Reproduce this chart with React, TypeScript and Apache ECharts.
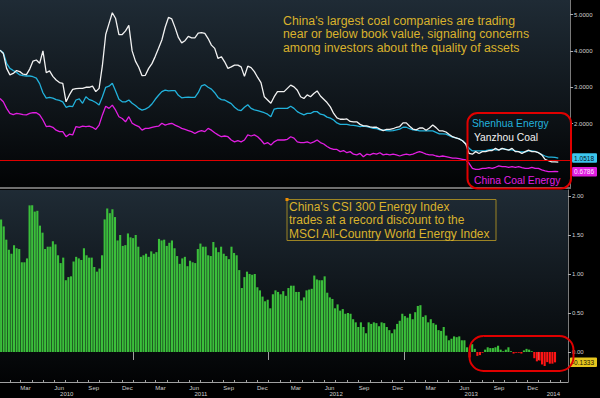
import React, { useEffect, useRef } from "react";
import * as echarts from "echarts";

// ---- time frame (days since 2010-01-01) ----
const DAY0 = Date.UTC(2010, 0, 1);
const AXIS_MIN_DAY = 4;
const AXIS_MAX_DAY = 1540;
const LAST_LABEL_DAY = 1500;

// top panel: price-to-book ratios, sampled every ~9 days
const LINE_START_DAY = 4;
const LINE_STEP_DAYS = 8.9;

const yanzhouCoal = [
  4.02, 3.93, 3.52, 3.34, 3.38, 3.46, 3.43, 3.36, 3.35, 3.5,
  3.72, 3.75, 3.66, 4.0, 3.4, 3.45, 3.3, 3.2, 3.13, 3.11,
  2.6, 2.79, 2.94, 2.96, 2.97, 2.97, 3.0, 3.0, 3.03, 2.88,
  2.97, 3.6, 4.45, 4.75, 5.05, 4.89, 4.45, 4.45, 4.55, 4.7,
  4.0, 3.72, 3.55, 3.32, 3.33, 3.52, 3.65, 3.85, 4.07, 4.3,
  4.65, 4.92, 4.88, 4.64, 4.37, 4.22, 4.28, 4.4, 4.36, 4.36,
  4.49, 4.5, 4.48, 4.34, 4.16, 4.07, 3.79, 3.84, 3.7, 3.52,
  3.56, 3.61, 3.61, 3.56, 3.3, 3.58, 3.54, 3.43, 3.27, 3.13,
  2.74, 2.65, 2.56, 2.74, 2.88, 2.88, 2.88, 2.97, 3.06, 3.01,
  2.92,
  2.74, 2.69, 2.79, 2.74, 2.83, 2.9, 2.76, 2.67, 2.58, 2.46,
  2.28, 2.16, 2.12, 2.12, 2.13, 2.06, 2.05, 2.05, 1.98, 1.94,
  1.94, 1.91, 1.9, 1.9, 1.85, 1.81, 1.84, 1.84, 1.86, 1.9,
  1.92, 2.02, 2.02, 1.93, 1.85, 1.83, 1.88, 1.88, 1.82, 1.88,
  1.96, 1.89, 1.8, 1.8, 1.77, 1.7, 1.64, 1.61, 1.58, 1.53,
  1.44, 1.18, 1.16, 1.23, 1.18, 1.23, 1.23, 1.26, 1.26, 1.32,
  1.27, 1.32, 1.29, 1.27, 1.32, 1.23, 1.23, 1.18, 1.23, 1.27,
  1.23, 1.23,
  1.2, 1.14, 1.02, 0.98, 0.95, 0.95, 0.94,
];

const shenhuaEnergy = [
  4.02, 3.95, 3.66, 3.52, 3.46, 3.41, 3.34, 3.32, 3.31, 3.31,
  3.29, 3.25, 3.1, 2.85, 2.7, 2.72, 2.7, 2.66, 2.64, 2.6,
  2.45, 2.48, 2.47, 2.65, 2.68, 2.56, 2.74, 2.66, 2.63, 2.58,
  2.51, 2.74, 3.0, 3.03, 3.11, 2.9, 2.67, 2.6, 2.6, 2.65,
  2.56, 2.5, 2.42, 2.37, 2.4, 2.45, 2.54, 2.67, 2.78, 2.88,
  2.92, 2.9, 2.91, 2.91, 2.78, 2.71, 2.72, 2.73, 2.72, 2.72,
  2.85, 3.04, 3.07, 3.0, 2.95, 2.85, 2.72, 2.66, 2.65, 2.6,
  2.55, 2.45, 2.38, 2.36, 2.45, 2.52, 2.42, 2.38, 2.36, 2.33,
  2.3, 2.26, 2.19, 2.4, 2.42, 2.42, 2.42, 2.42, 2.48, 2.42,
  2.33,
  2.28, 2.24, 2.28, 2.28, 2.33, 2.33, 2.26, 2.24, 2.18, 2.15,
  2.1, 2.02, 1.98, 1.98, 1.98, 1.96, 1.95, 1.94, 1.92, 1.93,
  1.92, 1.9, 1.87, 1.86, 1.83, 1.82, 1.81, 1.8, 1.81, 1.83,
  1.85, 1.9, 1.9, 1.86, 1.83, 1.82, 1.8, 1.8, 1.8, 1.8,
  1.8, 1.76, 1.72, 1.72, 1.71, 1.67, 1.63, 1.61, 1.58, 1.53,
  1.44, 1.32, 1.25, 1.25, 1.25, 1.25, 1.26, 1.28, 1.29, 1.28,
  1.28, 1.31, 1.3, 1.28, 1.28, 1.25, 1.23, 1.22, 1.22, 1.25,
  1.25, 1.24,
  1.2, 1.15, 1.11, 1.08, 1.08, 1.07, 1.0518,
];

const chinaCoalEnergy = [
  2.69, 2.6, 2.42, 2.28, 2.25, 2.28, 2.27, 2.25, 2.24, 2.28,
  2.3, 2.3, 2.24, 2.1, 1.92, 1.93, 1.9, 1.82, 1.78, 1.78,
  1.64, 1.71, 1.69, 1.92, 1.9, 1.93, 1.92, 1.93, 1.9, 1.84,
  1.96, 2.24, 2.48, 2.42, 2.51, 2.37, 2.19, 2.14, 2.05, 2.19,
  2.01, 1.96, 1.92, 1.82, 1.87, 1.87, 1.9, 1.92, 1.93, 2.01,
  1.96, 1.99, 2.01, 1.96, 1.92, 1.87, 1.84, 1.81, 1.78, 1.73,
  1.78, 1.81, 1.78, 1.87, 1.82, 1.75, 1.69, 1.64, 1.66, 1.64,
  1.55, 1.5, 1.53, 1.5, 1.55, 1.69, 1.66, 1.69, 1.64, 1.55,
  1.44, 1.48, 1.41, 1.5, 1.55, 1.55, 1.55, 1.57, 1.64, 1.6,
  1.5,
  1.48, 1.48, 1.5, 1.46, 1.5, 1.55, 1.48, 1.44, 1.37, 1.32,
  1.29, 1.29, 1.23, 1.26, 1.2, 1.23, 1.16, 1.14, 1.18, 1.09,
  1.16, 1.14, 1.18, 1.16, 1.2, 1.14, 1.16, 1.14, 1.16, 1.14,
  1.11, 1.14, 1.16, 1.14, 1.16, 1.2, 1.23, 1.2, 1.16, 1.14,
  1.14, 1.11, 1.09, 1.11, 1.09, 1.07, 1.05, 1.05, 1.04, 1.02,
  1.0, 0.91, 0.77, 0.74, 0.74, 0.77, 0.77, 0.79, 0.77, 0.8,
  0.84, 0.82, 0.82, 0.8, 0.82, 0.8, 0.82, 0.79, 0.77, 0.77,
  0.8, 0.77,
  0.77, 0.73, 0.7, 0.68, 0.68, 0.69, 0.6786,
];

// bottom panel: weekly premium of CSI 300 Energy vs MSCI ACWI Energy (P/B)
const BAR_START_DAY = 7; // 2010-01-08
const BAR_STEP_DAYS = 7;
const csiEnergyPremium = [
  1.7, 1.61, 1.44, 1.31, 1.26, 1.37, 1.33, 1.32, 1.15, 1.15,
  1.2, 1.88, 1.88, 1.8, 1.81, 1.62, 1.53, 1.32, 1.35, 1.35,
  1.42, 1.38, 1.24, 1.14, 1.21, 0.92, 0.96, 0.97, 1.16, 1.22,
  1.2, 1.18, 1.33, 1.24, 1.21, 1.21, 1.09, 1.03, 1.07, 1.24,
  1.7, 1.84, 1.78, 1.83, 1.73, 1.43, 1.5, 1.36, 1.37, 1.52,
  1.47, 1.46, 1.5, 1.35, 1.22, 1.24, 1.26, 1.22, 1.29, 1.26,
  1.28, 1.45, 1.43, 1.44, 1.36, 1.4, 1.43, 1.33, 1.23, 1.13,
  1.2, 1.22, 1.1, 1.17,
  1.15, 1.14, 1.32, 1.39, 1.35, 1.35, 1.24, 1.23, 1.41, 1.34,
  1.28, 1.35, 1.26, 1.23, 1.19, 1.35, 1.27, 1.24, 1.05, 0.82,
  0.96, 1.03, 1.0, 0.99, 1.0, 0.83, 0.79, 0.71, 0.65, 0.67,
  0.56, 0.74, 0.79, 0.77, 0.74, 0.78, 0.72, 0.82, 0.85, 0.85,
  0.77, 0.77, 0.66, 0.7, 0.79, 0.8, 0.81, 0.98, 0.93, 0.92,
  0.92, 0.97, 0.76, 0.7, 0.68, 0.56, 0.61, 0.53, 0.55, 0.49,
  0.5, 0.49, 0.42, 0.38, 0.32, 0.38, 0.32, 0.24, 0.38, 0.36,
  0.38, 0.37, 0.33, 0.38, 0.37, 0.32, 0.28, 0.24, 0.29, 0.36,
  0.4, 0.49, 0.46, 0.44, 0.49, 0.42, 0.51, 0.59, 0.6, 0.45,
  0.47, 0.38, 0.42, 0.37, 0.35, 0.28, 0.27, 0.32, 0.21, 0.15,
  0.17, 0.2, 0.19, 0.2, 0.15, 0.15, 0.06, -0.07, 0.1, 0.04,
  -0.05, -0.04, -0.01, 0.03, 0.06, 0.05, 0.05, 0.06, 0.08, 0.03,
  0.01, 0.03, 0.06, 0.01, -0.02, -0.01, -0.01, -0.02, 0.02, 0.04,
  0.03, 0.01, -0.08, -0.12, -0.11, -0.16, -0.18, -0.13, -0.15, -0.15,
  -0.1333,
];

const TOP_TICKS = [1, 2, 3, 4, 5];
const TOP_LABELS = [2, 3, 4, 5];
const BOTTOM_TICKS = [0, 0.5, 1, 1.5, 2];
const MONTH_NAMES = ["Jan", "Feb", "Mar", "Apr", "May", "Jun", "Jul", "Aug", "Sep", "Oct", "Nov", "Dec"];
const LABEL_MONTHS = [2, 5, 8, 11];
const YEARS = [2010, 2011, 2012, 2013, 2014];

const TOP_NOTE =
  "China's largest coal companies are trading\nnear or below book value, signaling concerns\namong investors about the quality of assets";
const BOTTOM_NOTE =
  "China's CSI 300 Energy Index\ntrades at a record discount to the\nMSCI All-Country World Energy Index";

const dayOf = (y: number, m: number) => (Date.UTC(y, m, 1) - DAY0) / 864e5;
const dateOf = (d: number) => new Date(DAY0 + (d + 0.5) * 864e5);

export default function App() {
  const ref = useRef<HTMLDivElement>(null);

  useEffect(() => {
    if (!ref.current) return;
    const chart = echarts.init(ref.current, null, { renderer: "svg" });

    const monthStarts: number[] = [];
    const quarterLabels: number[] = [];
    YEARS.forEach((y) => {
      for (let m = 0; m < 12; m++) {
        const d = dayOf(y, m);
        if (d >= AXIS_MIN_DAY && d <= AXIS_MAX_DAY) {
          monthStarts.push(d);
          if (LABEL_MONTHS.includes(m) && d <= LAST_LABEL_DAY) quarterLabels.push(d);
        }
      }
    });
    const yearStarts = YEARS.slice(1).map((y) => dayOf(y, 0));
    const yearMids = YEARS.map((y) => {
      const a = Math.max(dayOf(y, 0), AXIS_MIN_DAY);
      const b = Math.min(dayOf(y + 1, 0), AXIS_MAX_DAY);
      return (a + b) / 2;
    });

    const lineData = (arr: number[]) => arr.map((v, i) => [LINE_START_DAY + i * LINE_STEP_DAYS, v]);
    const barData = csiEnergyPremium.map((v, i) => [BAR_START_DAY + i * BAR_STEP_DAYS, v]);

    const yzLast = yanzhouCoal[yanzhouCoal.length - 1];
    const shLast = shenhuaEnergy[shenhuaEnergy.length - 1];
    const ccLast = chinaCoalEnergy[chinaCoalEnergy.length - 1];
    const barLast = csiEnergyPremium[csiEnergyPremium.length - 1];

    const font = "Liberation Sans";
    const bg = () =>
      new echarts.graphic.LinearGradient(0, 0, 0, 1, [
        { offset: 0, color: "#1f2b35" },
        { offset: 1, color: "#020304" },
      ]);

    const axisLabelBase = { fontSize: 6, color: "#d0d0d0", fontFamily: font };
    const TOP_MIN = 0.23, TOP_MAX = 5.4, BOT_MIN = -0.385, BOT_MAX = 2.077;

    const tagStyle = (bgc: string, fg: string) => ({
      backgroundColor: bgc,
      color: fg,
      fontSize: 6.5,
      fontFamily: font,
      padding: [1.5, 3, 1, 2],
      borderRadius: 1,
    });

    chart.setOption({
      animation: false,
      backgroundColor: "#000",
      grid: [
        { left: 0, right: 26, top: 0, height: 188, show: true, backgroundColor: bg(), borderWidth: 0 },
        { left: 0, right: 26, top: 190, height: 192, show: true, backgroundColor: bg(), borderWidth: 0 },
      ],
      xAxis: [
        {
          gridIndex: 0, type: "value", min: AXIS_MIN_DAY, max: AXIS_MAX_DAY,
          axisLine: { show: true, onZero: false, lineStyle: { color: "#6f6f6f", width: 2 } },
          axisTick: { show: false }, axisLabel: { show: false }, splitLine: { show: false },
        },
        {
          gridIndex: 1, type: "value", min: AXIS_MIN_DAY, max: AXIS_MAX_DAY, position: "bottom",
          axisLine: { show: true, onZero: false, lineStyle: { color: "#a0a0a0", width: 1 } },
          axisTick: { show: true, inside: true, length: 2, customValues: monthStarts, lineStyle: { color: "#a0a0a0" } },
          axisLabel: {
            ...axisLabelBase, customValues: quarterLabels, align: "left", margin: 3,
            formatter: (v: number) => MONTH_NAMES[dateOf(v).getUTCMonth()],
          },
          splitLine: { show: false },
        },
        {
          gridIndex: 1, type: "value", min: AXIS_MIN_DAY, max: AXIS_MAX_DAY, position: "bottom", offset: 8,
          axisLine: { show: false },
          axisTick: { show: true, length: 8, customValues: yearStarts, lineStyle: { color: "#a0a0a0" } },
          axisLabel: {
            ...axisLabelBase, customValues: yearMids, margin: 1,
            formatter: (v: number) => String(dateOf(v).getUTCFullYear()),
          },
          splitLine: { show: false },
        },
      ],
      yAxis: [
        {
          gridIndex: 0, type: "value", position: "right", min: TOP_MIN, max: TOP_MAX,
          axisLine: { show: true, lineStyle: { color: "#7a7a7a" } },
          axisTick: { show: true, length: 3, customValues: TOP_TICKS, lineStyle: { color: "#b0b0b0" } },
          axisLabel: { ...axisLabelBase, customValues: TOP_LABELS, margin: 4, formatter: (v: number) => v.toFixed(4) },
          splitLine: { show: false },
        },
        {
          gridIndex: 0, type: "value", position: "right", min: TOP_MIN, max: TOP_MAX,
          axisLine: { show: false }, axisTick: { show: false }, splitLine: { show: false },
          axisLabel: {
            customValues: [yzLast, shLast, ccLast], margin: 2,
            formatter: (v: number) => {
              if (Math.abs(v - shLast) < 1e-3) return "{s|" + shLast.toFixed(4) + "}";
              if (Math.abs(v - ccLast) < 1e-3) return "{c|" + ccLast.toFixed(4) + "}";
              return "{y|" + yzLast.toFixed(4) + "}";
            },
            rich: {
              s: tagStyle("#3cc6ee", "#06121a"),
              c: tagStyle("#e01ee0", "#ffe6ff"),
              y: tagStyle("#e8e8e8", "#111"),
            },
          },
        },
        {
          gridIndex: 1, type: "value", position: "right", min: BOT_MIN, max: BOT_MAX,
          axisLine: { show: true, onZero: false, lineStyle: { color: "#7a7a7a" } },
          axisTick: { show: true, length: 3, customValues: BOTTOM_TICKS, lineStyle: { color: "#b0b0b0" } },
          axisLabel: { ...axisLabelBase, customValues: BOTTOM_TICKS, margin: 4, formatter: (v: number) => v.toFixed(2) },
          splitLine: { show: false },
        },
        {
          gridIndex: 1, type: "value", position: "right", min: BOT_MIN, max: BOT_MAX,
          axisLine: { show: false }, axisTick: { show: false }, splitLine: { show: false },
          axisLabel: {
            customValues: [barLast], margin: 2,
            formatter: () => "{b|" + barLast.toFixed(4) + "}",
            rich: { b: tagStyle("#e6c61e", "#1a1400") },
          },
        },
      ],
      series: [
        {
          name: "China Coal Energy", type: "line", xAxisIndex: 0, yAxisIndex: 0,
          data: lineData(chinaCoalEnergy), showSymbol: false, symbol: "none",
          lineStyle: { color: "#e21ee2", width: 1.3 },
          markLine: {
            silent: true, symbol: "none", label: { show: false },
            lineStyle: { color: "#e00000", width: 1, type: "solid" },
            data: [{ yAxis: 1 }],
          },
        },
        {
          name: "Shenhua Energy", type: "line", xAxisIndex: 0, yAxisIndex: 0,
          data: lineData(shenhuaEnergy), showSymbol: false, symbol: "none",
          lineStyle: { color: "#22b2dc", width: 1.3 },
        },
        {
          name: "Yanzhou Coal", type: "line", xAxisIndex: 0, yAxisIndex: 0,
          data: lineData(yanzhouCoal), showSymbol: false, symbol: "none",
          lineStyle: { color: "#f2f2f2", width: 1.3 },
        },
        {
          name: "CSI 300 Energy vs MSCI ACWI Energy", type: "bar", xAxisIndex: 1, yAxisIndex: 2,
          data: barData, barWidth: 2.1,
          itemStyle: {
            color: (p: any) => (p.value[1] < 0 ? "#ff1414" : "#3bbf3b"),
          },
        },
      ],
      graphic: [
        {
          type: "text", x: 283, y: 14, z: 50,
          style: { text: TOP_NOTE, fill: "#d9b22c", font: `12.3px "${font}"`, lineHeight: 13.6 },
        },
        {
          type: "rect", z: 50, shape: { x: 287, y: 199.5, width: 209, height: 41 },
          style: { fill: "rgba(0,0,0,0)", stroke: "#9c8424", lineWidth: 1 },
        },
        { type: "rect", z: 51, shape: { x: 285.5, y: 198, width: 3, height: 3 }, style: { fill: "#f08c00" } },
        {
          type: "text", x: 289, y: 200, z: 50,
          style: { text: BOTTOM_NOTE, fill: "#d9b22c", font: `12px "${font}"`, lineHeight: 13.6 },
        },
        {
          type: "rect", z: 60, shape: { x: 467.5, y: 113, width: 103.5, height: 75.5, r: 10 },
          style: { fill: "rgba(0,0,0,0)", stroke: "#e00000", lineWidth: 2 },
        },
        {
          type: "rect", z: 60, shape: { x: 469.5, y: 336, width: 104, height: 35, r: 14 },
          style: { fill: "rgba(0,0,0,0)", stroke: "#e00000", lineWidth: 2 },
        },
        {
          type: "text", x: 472, y: 118, z: 55,
          style: { text: "Shenhua Energy", fill: "#22b2dc", font: `10.3px "${font}"` },
        },
        {
          type: "text", x: 474, y: 132, z: 55,
          style: { text: "Yanzhou Coal", fill: "#f2f2f2", font: `10.3px "${font}"` },
        },
        {
          type: "text", x: 474, y: 175, z: 55,
          style: { text: "China Coal Energy", fill: "#e21ee2", font: `10.3px "${font}"` },
        },
      ],
    });

    return () => chart.dispose();
  }, []);

  return (
    <div
      ref={ref}
      style={{ position: "absolute", left: 0, top: 0, width: 600, height: 398, background: "#000" }}
    />
  );
}
